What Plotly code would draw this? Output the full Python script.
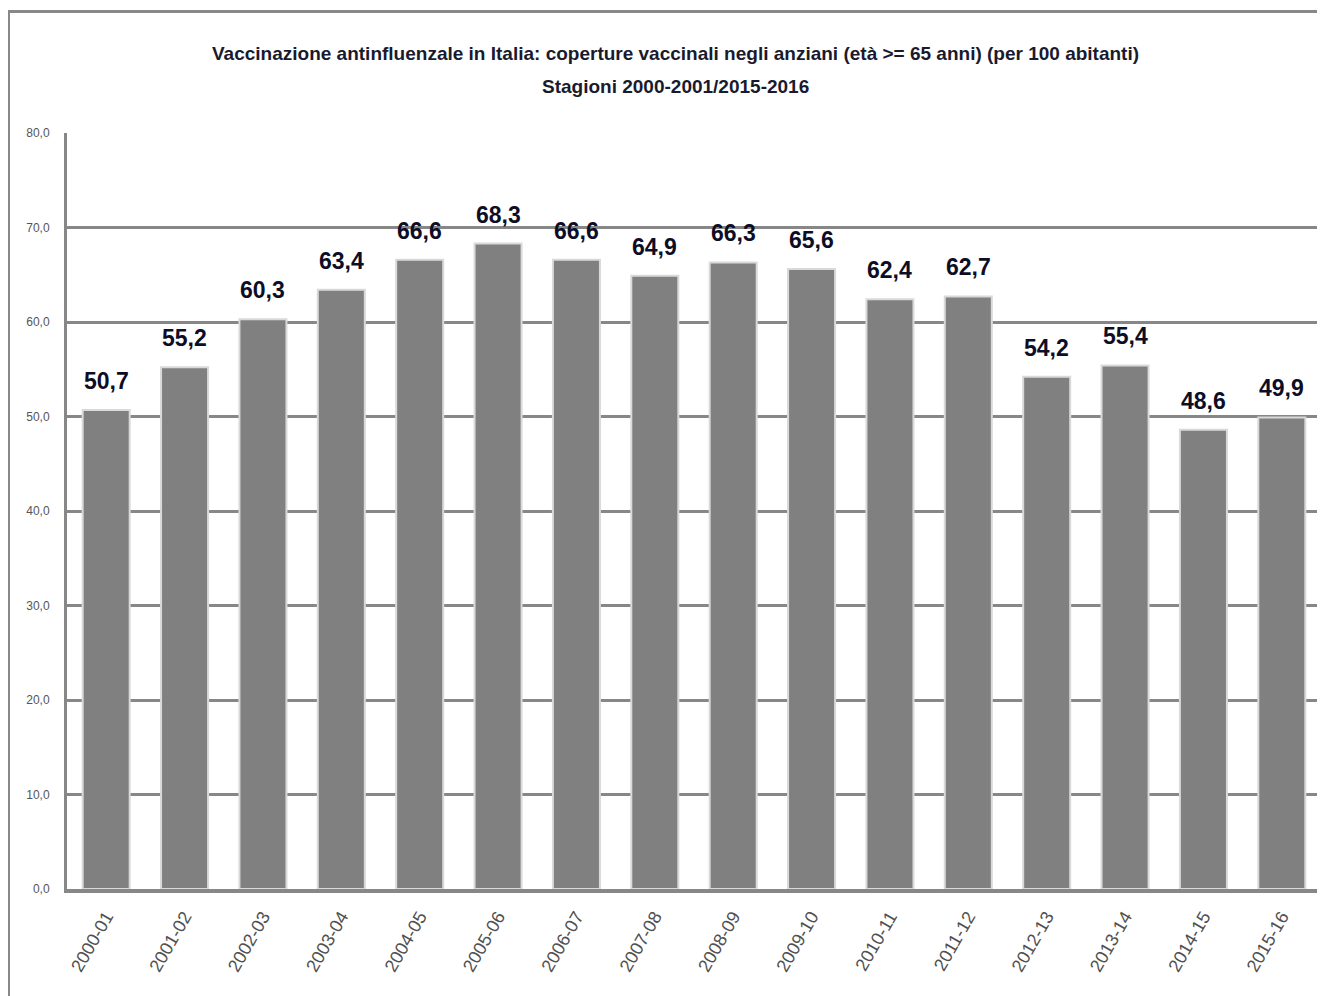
import plotly.graph_objects as go

categories = ["2000-01", "2001-02", "2002-03", "2003-04", "2004-05", "2005-06", "2006-07", "2007-08",
              "2008-09", "2009-10", "2010-11", "2011-12", "2012-13", "2013-14", "2014-15", "2015-16"]
values = [50.7, 55.2, 60.3, 63.4, 66.6, 68.3, 66.6, 64.9, 66.3, 65.6, 62.4, 62.7, 54.2, 55.4, 48.6, 49.9]
y_ticks = [0, 10, 20, 30, 40, 50, 60, 70, 80]

title_line1 = "Vaccinazione antinfluenzale in Italia: coperture vaccinali negli anziani (età >= 65 anni) (per 100 abitanti)"
title_line2 = "Stagioni 2000-2001/2015-2016"

font_main = "Liberation Sans Narrow, Liberation Sans, Arial, sans-serif"
font_title = "Liberation Sans, Arial, sans-serif"

OFF = 8  # page body offset
W, H = 1325 - OFF, 996 - OFF
plot_left, plot_right, plot_top, plot_bottom = 67, 1321, 133, 889
ml = plot_left - OFF
mr = W - (plot_right - OFF)
mt, mb = plot_top - OFF, H - (plot_bottom - OFF)
pw, ph = W - ml - mr, H - mt - mb


def px_to_paper_x(px):
    return (px - OFF - ml) / pw


def px_to_paper_y(py):
    return (H - mb - (py - OFF)) / ph


fig = go.Figure(go.Bar(
    x=categories,
    y=values,
    width=0.6,
    marker=dict(color="#808080", line=dict(color="#d9d9d9", width=2)),
    cliponaxis=False,
))

value_labels = [
    dict(x=c, y=v, xref="x", yref="y", text="<b>" + f"{v:.1f}".replace(".", ",") + "</b>",
         showarrow=False, yanchor="bottom", xanchor="center", yshift=14,
         font=dict(family=font_main, size=23, color="#0d0d26"))
    for c, v in zip(categories, values)
]

fig.update_layout(
    width=W, height=H,
    margin=dict(l=ml, r=mr, t=mt, b=mb, autoexpand=False),
    paper_bgcolor="white",
    plot_bgcolor="white",
    separators=",.",
    showlegend=False,
    bargap=0.4,
    annotations=[
        dict(text="<b>" + title_line1 + "</b>", xref="paper", yref="paper",
             x=px_to_paper_x(675), y=px_to_paper_y(53), showarrow=False,
             font=dict(family=font_title, size=19, color="#1a1a2e"), xanchor="center", yanchor="middle"),
        dict(text="<b>" + title_line2 + "</b>", xref="paper", yref="paper",
             x=px_to_paper_x(675), y=px_to_paper_y(87), showarrow=False,
             font=dict(family=font_title, size=19, color="#1a1a2e"), xanchor="center", yanchor="middle"),
    ] + value_labels,
    shapes=[
        dict(type="rect", xref="paper", yref="paper",
             x0=px_to_paper_x(8.5), x1=px_to_paper_x(1400),
             y0=px_to_paper_y(1100), y1=px_to_paper_y(11.5),
             line=dict(color="#888888", width=3), fillcolor="rgba(0,0,0,0)", layer="below"),
    ],
)

fig.update_xaxes(
    type="category",
    tickangle=-60,
    tickfont=dict(family=font_main, size=18, color="#505050"),
    showline=True, linecolor="#878787", linewidth=4,
    showgrid=False, ticks="outside", ticklen=6, tickcolor="rgba(0,0,0,0)",
)

fig.update_yaxes(
    range=[0, 80],
    tickvals=y_ticks,
    tickformat=".1f",
    tickfont=dict(family=font_main, size=12, color="#555555"),
    showgrid=True, gridcolor="#878787", gridwidth=3,
    showline=True, linecolor="#878787", linewidth=3,
    zeroline=False,
    ticks="outside", ticklen=12, tickcolor="rgba(0,0,0,0)",
)

fig.write_html("out.html")
